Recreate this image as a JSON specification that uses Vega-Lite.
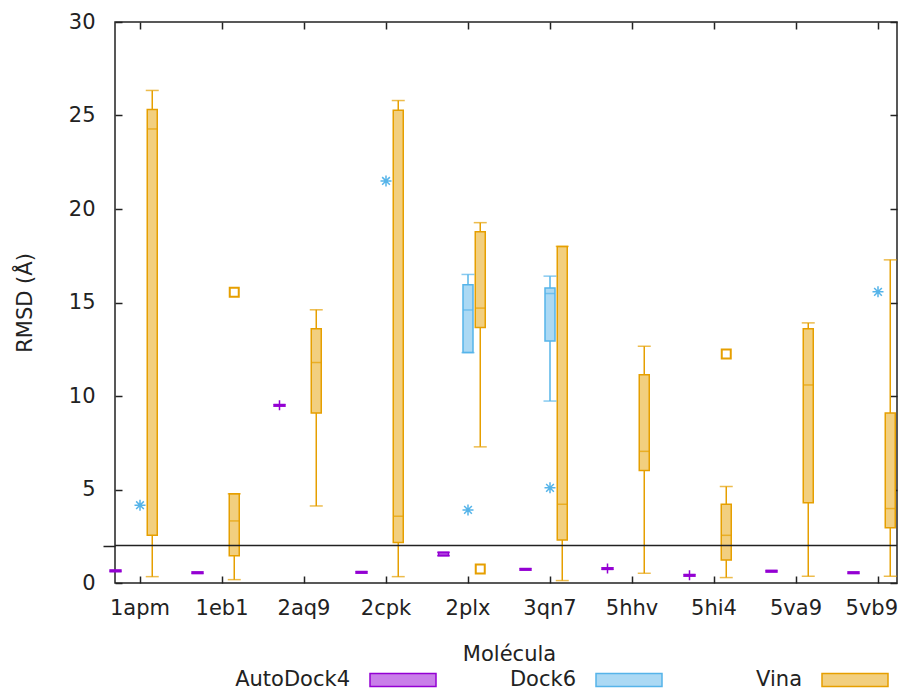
{
  "$schema": "https://vega.github.io/schema/vega-lite/v6.json",
  "width": 782,
  "height": 561,
  "autosize": {"type": "none"},
  "padding": {"left": 115, "top": 22, "right": 2, "bottom": 107},
  "config": {
    "view": {"stroke": "#222", "strokeWidth": 1.5},
    "font": "DejaVu Sans",
    "axis": {
      "labelFont": "DejaVu Sans", "labelFontSize": 21, "labelColor": "#222",
      "titleFont": "DejaVu Sans", "titleFontSize": 21, "titleFontWeight": "normal", "titleColor": "#222",
      "tickColor": "#222", "tickWidth": 1.5, "grid": false, "domain": false, "labelFlush": false
    },
    "legend": {"labelFont": "DejaVu Sans", "labelFontSize": 21, "labelColor": "#222"}
  },
  "datasets": {
    "boxes": [
      {"molecule": "1apm", "program": "AutoDock4", "lower": 0.61, "q1": 0.61, "median": 0.65, "q3": 0.69, "upper": 0.69},
      {"molecule": "1eb1", "program": "AutoDock4", "lower": 0.51, "q1": 0.51, "median": 0.55, "q3": 0.59, "upper": 0.59},
      {"molecule": "2aq9", "program": "AutoDock4", "lower": 9.46, "q1": 9.46, "median": 9.5, "q3": 9.54, "upper": 9.54},
      {"molecule": "2cpk", "program": "AutoDock4", "lower": 0.53, "q1": 0.53, "median": 0.57, "q3": 0.61, "upper": 0.61},
      {"molecule": "2plx", "program": "AutoDock4", "lower": 1.46, "q1": 1.46, "median": 1.55, "q3": 1.64, "upper": 1.64},
      {"molecule": "3qn7", "program": "AutoDock4", "lower": 0.69, "q1": 0.69, "median": 0.73, "q3": 0.77, "upper": 0.77},
      {"molecule": "5hhv", "program": "AutoDock4", "lower": 0.73, "q1": 0.73, "median": 0.77, "q3": 0.81, "upper": 0.81},
      {"molecule": "5hi4", "program": "AutoDock4", "lower": 0.37, "q1": 0.37, "median": 0.41, "q3": 0.45, "upper": 0.45},
      {"molecule": "5va9", "program": "AutoDock4", "lower": 0.59, "q1": 0.59, "median": 0.63, "q3": 0.67, "upper": 0.67},
      {"molecule": "5vb9", "program": "AutoDock4", "lower": 0.51, "q1": 0.51, "median": 0.55, "q3": 0.59, "upper": 0.59},
      {"molecule": "2plx", "program": "Dock6", "lower": 12.32, "q1": 12.32, "median": 14.6, "q3": 15.95, "upper": 16.5},
      {"molecule": "3qn7", "program": "Dock6", "lower": 9.73, "q1": 12.94, "median": 15.48, "q3": 15.78, "upper": 16.41},
      {"molecule": "1apm", "program": "Vina", "lower": 0.34, "q1": 2.55, "median": 24.28, "q3": 25.32, "upper": 26.34},
      {"molecule": "1eb1", "program": "Vina", "lower": 0.18, "q1": 1.46, "median": 3.32, "q3": 4.77, "upper": 4.77},
      {"molecule": "2aq9", "program": "Vina", "lower": 4.12, "q1": 9.09, "median": 11.79, "q3": 13.59, "upper": 14.61},
      {"molecule": "2cpk", "program": "Vina", "lower": 0.34, "q1": 2.16, "median": 3.57, "q3": 25.28, "upper": 25.8},
      {"molecule": "2plx", "program": "Vina", "lower": 7.28, "q1": 13.66, "median": 14.7, "q3": 18.79, "upper": 19.27},
      {"molecule": "3qn7", "program": "Vina", "lower": 0.13, "q1": 2.3, "median": 4.21, "q3": 18.0, "upper": 18.0},
      {"molecule": "5hhv", "program": "Vina", "lower": 0.52, "q1": 6.02, "median": 7.04, "q3": 11.14, "upper": 12.66},
      {"molecule": "5hi4", "program": "Vina", "lower": 0.29, "q1": 1.23, "median": 2.55, "q3": 4.21, "upper": 5.16},
      {"molecule": "5va9", "program": "Vina", "lower": 0.36, "q1": 4.29, "median": 10.59, "q3": 13.59, "upper": 13.91},
      {"molecule": "5vb9", "program": "Vina", "lower": 0.36, "q1": 2.95, "median": 3.98, "q3": 9.09, "upper": 17.28}
    ],
    "outliers": [
      {"molecule": "2aq9", "program": "AutoDock4", "rmsd": 9.5},
      {"molecule": "5hhv", "program": "AutoDock4", "rmsd": 0.77},
      {"molecule": "5hi4", "program": "AutoDock4", "rmsd": 0.41},
      {"molecule": "1apm", "program": "Dock6", "rmsd": 4.16},
      {"molecule": "2cpk", "program": "Dock6", "rmsd": 21.5},
      {"molecule": "2plx", "program": "Dock6", "rmsd": 3.91},
      {"molecule": "3qn7", "program": "Dock6", "rmsd": 5.09},
      {"molecule": "5vb9", "program": "Dock6", "rmsd": 15.57},
      {"molecule": "1eb1", "program": "Vina", "rmsd": 15.55},
      {"molecule": "2plx", "program": "Vina", "rmsd": 0.75},
      {"molecule": "5hi4", "program": "Vina", "rmsd": 12.25}
    ]
  },
  "layer": [
    {
      "data": {"name": "boxes"},
      "mark": {"type": "bar", "size": 10, "strokeWidth": 1.5},
      "encoding": {
        "x": {"field": "molecule", "type": "nominal",
          "scale": {"domain": ["1apm", "1eb1", "2aq9", "2cpk", "2plx", "3qn7", "5hhv", "5hi4", "5va9", "5vb9"], "range": [-16, 804], "paddingInner": 0, "paddingOuter": 0},
          "axis": {"orient": "bottom", "title": "Molécula", "labelAngle": 0, "tickSize": -7, "labelPadding": 21, "titlePadding": 25,
            "labelAlign": {"condition": {"test": "datum.value == '5vb9'", "value": "right"}, "value": "center"},
            "labelOffset": {"condition": {"test": "datum.value == '5vb9'", "value": 20}, "value": 0}}},
        "xOffset": {"field": "program", "type": "nominal",
          "scale": {"domain": ["AutoDock4", "_", "Dock6", "Vina"], "range": [10.375, 59.375], "paddingInner": 0, "paddingOuter": 0}},
        "y": {"field": "q1", "type": "quantitative",
          "scale": {"domain": [0, 30], "nice": false, "zero": false},
          "axis": {"orient": "left", "values": [0, 2, 5, 10, 15, 20, 25, 30], "title": "RMSD (Å)",
            "labelExpr": "datum.value == 2 ? '' : datum.label",
            "tickSize": {"condition": {"test": "datum.value == 2", "value": 12}, "value": -7},
            "labelPadding": 27, "titlePadding": 33}},
        "y2": {"field": "q3"},
        "fill": {"field": "program", "type": "nominal",
          "scale": {"domain": ["AutoDock4", "Dock6", "Vina"], "range": ["#c97fe9", "#abd9f4", "#f2cf7f"]},
          "legend": {"orient": "none", "legendX": 254, "legendY": 624, "direction": "horizontal", "columns": 3, "title": null,
            "symbolType": "M-1,-0.197L1,-0.197L1,0.197L-1,0.197Z", "symbolSize": 4356, "symbolStrokeWidth": 1.5,
            "labelAlign": "right", "labelOffset": -87, "columnPadding": 70, "gridAlign": "all",
            "labelExpr": "datum.label == 'Vina' ? '\u00a0\u00a0\u00a0\u00a0\u00a0\u00a0\u00a0\u00a0\u00a0\u00a0Vina' : datum.label == 'Dock6' ? '\u00a0\u00a0\u00a0\u00a0\u00a0\u00a0\u00a0Dock6' : datum.label"}},
        "stroke": {"field": "program", "type": "nominal",
          "scale": {"domain": ["AutoDock4", "Dock6", "Vina"], "range": ["#9400d3", "#56b4e9", "#e69f00"]}}
      }
    },
    {
      "data": {"name": "boxes"},
      "mark": {"type": "rule", "strokeWidth": 1.5},
      "encoding": {
        "x": {"field": "molecule", "type": "nominal", "axis": null},
        "xOffset": {"field": "program", "type": "nominal"},
        "y": {"field": "lower", "type": "quantitative", "axis": null},
        "y2": {"field": "q1"},
        "color": {"field": "program", "type": "nominal", "legend": null,
          "scale": {"domain": ["AutoDock4", "Dock6", "Vina"], "range": ["#9400d3", "#56b4e9", "#e69f00"]}}
      }
    },
    {
      "data": {"name": "boxes"},
      "mark": {"type": "rule", "strokeWidth": 1.5},
      "encoding": {
        "x": {"field": "molecule", "type": "nominal", "axis": null},
        "xOffset": {"field": "program", "type": "nominal"},
        "y": {"field": "q3", "type": "quantitative", "axis": null},
        "y2": {"field": "upper"},
        "color": {"field": "program", "type": "nominal", "legend": null}
      }
    },
    {
      "data": {"name": "boxes"},
      "mark": {"type": "tick", "size": 13, "thickness": 1.5},
      "encoding": {
        "x": {"field": "molecule", "type": "nominal", "axis": null},
        "xOffset": {"field": "program", "type": "nominal"},
        "y": {"field": "lower", "type": "quantitative", "axis": null},
        "color": {"field": "program", "type": "nominal", "legend": null}
      }
    },
    {
      "data": {"name": "boxes"},
      "mark": {"type": "tick", "size": 13, "thickness": 1.5},
      "encoding": {
        "x": {"field": "molecule", "type": "nominal", "axis": null},
        "xOffset": {"field": "program", "type": "nominal"},
        "y": {"field": "upper", "type": "quantitative", "axis": null},
        "color": {"field": "program", "type": "nominal", "legend": null}
      }
    },
    {
      "data": {"name": "boxes"},
      "mark": {"type": "tick", "size": 10, "thickness": 1.5},
      "encoding": {
        "x": {"field": "molecule", "type": "nominal",
          "axis": {"orient": "top", "labels": false, "title": null, "tickSize": -7}},
        "xOffset": {"field": "program", "type": "nominal"},
        "y": {"field": "median", "type": "quantitative",
          "axis": {"orient": "right", "labels": false, "title": null, "values": [0, 5, 10, 15, 20, 25, 30], "tickSize": -7}},
        "color": {"field": "program", "type": "nominal", "legend": null}
      }
    },
    {
      "data": {"name": "outliers"},
      "transform": [{"filter": "datum.program == 'AutoDock4'"}],
      "mark": {"type": "point", "filled": false, "strokeWidth": 1.5, "size": 100, "opacity": 1, "color": "#9400d3", "shape": "M-1,0L1,0M0,-1L0,1"},
      "encoding": {
        "x": {"field": "molecule", "type": "nominal", "axis": null},
        "xOffset": {"field": "program", "type": "nominal"},
        "y": {"field": "rmsd", "type": "quantitative", "axis": null}
      }
    },
    {
      "data": {"name": "outliers"},
      "transform": [{"filter": "datum.program == 'Dock6'"}],
      "mark": {"type": "point", "filled": false, "strokeWidth": 1.5, "size": 121, "opacity": 1, "color": "#56b4e9", "shape": "M-1,0L1,0M0,-1L0,1M-0.7,-0.7L0.7,0.7M-0.7,0.7L0.7,-0.7"},
      "encoding": {
        "x": {"field": "molecule", "type": "nominal", "axis": null},
        "xOffset": {"field": "program", "type": "nominal"},
        "y": {"field": "rmsd", "type": "quantitative", "axis": null}
      }
    },
    {
      "data": {"name": "outliers"},
      "transform": [{"filter": "datum.program == 'Vina'"}],
      "mark": {"type": "point", "filled": false, "strokeWidth": 2, "size": 81, "opacity": 1, "color": "#e69f00", "shape": "square"},
      "encoding": {
        "x": {"field": "molecule", "type": "nominal", "axis": null},
        "xOffset": {"field": "program", "type": "nominal"},
        "y": {"field": "rmsd", "type": "quantitative", "axis": null}
      }
    },
    {
      "data": {"values": [{}]},
      "mark": {"type": "rule", "color": "#222", "strokeWidth": 1.5},
      "encoding": {
        "y": {"datum": 2, "type": "quantitative", "axis": null}
      }
    }
  ],
  "resolve": {"axis": {"x": "independent", "y": "independent"}}
}
